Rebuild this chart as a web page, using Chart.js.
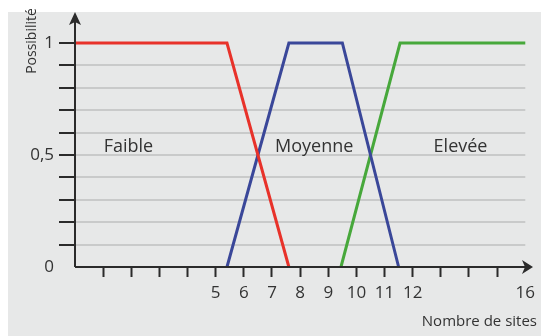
<!DOCTYPE html>
<html>
<head>
<meta charset="utf-8">
<script src="https://cdn.jsdelivr.net/npm/chart.js@4/dist/chart.umd.min.js"></script>
<style>
  html, body { margin: 0; padding: 0; background: #fff; }
  canvas { display: block; }
</style>
</head>
<body>
<canvas id="chart" width="541" height="336"></canvas>
<script>
// ─── Données ───────────────────────────────────────────────────────────────
const faibleX  = [0, 5.4, 7.6];
const faibleY  = [1, 1, 0];
const moyenneX = [5.4, 7.6, 9.5, 11.5];
const moyenneY = [0, 1, 1, 0];
const eleveeX  = [9.45, 11.55, 16];
const eleveeY  = [0, 1, 1];

const classLabels = ['Faible', 'Moyenne', 'Elevée'];
const xTickLabels = [5, 6, 7, 8, 9, 10, 11, 12, 16];
const yTickLabels = { 0: '0', 0.5: '0,5', 1: '1' };
const xTitle = 'Nombre de sites';
const yTitle = 'Possibilité';

const FONT = "'Open Sans', sans-serif";
const INK  = '#333333';
const AXIS = '#2b2b2b';

function toPoints(xs, ys) { return xs.map((x, i) => ({ x, y: ys[i] })); }

function yLabelFor(v) {
  for (const k of Object.keys(yTickLabels)) {
    if (Math.abs(v - Number(k)) < 1e-6) return yTickLabels[k];
  }
  return '';
}

// Fond gris, axes fléchés, étiquettes de classes et titres des axes
const decorPlugin = {
  id: 'decor',
  beforeDraw(chart) {
    const c = chart.ctx;
    c.save();
    c.fillStyle = '#ffffff';
    c.fillRect(0, 0, chart.width, chart.height);
    c.fillStyle = '#e7e8e8';
    c.fillRect(8, 12, chart.width - 8, chart.height - 12);
    c.restore();
  },
  afterDraw(chart) {
    const c = chart.ctx;
    const { left, bottom } = chart.chartArea;
    const xs = chart.scales.x, ys = chart.scales.y;
    const xTip = 533, yTip = 12;

    c.save();
    c.strokeStyle = AXIS;
    c.fillStyle = AXIS;
    c.lineWidth = 2;
    c.beginPath();
    c.moveTo(left, bottom);
    c.lineTo(xTip - 4, bottom);
    c.moveTo(left, bottom);
    c.lineTo(left, yTip + 4);
    c.stroke();

    // flèche X
    c.beginPath();
    c.moveTo(xTip, bottom);
    c.lineTo(xTip - 11, bottom - 7);
    c.lineTo(xTip - 8, bottom);
    c.lineTo(xTip - 11, bottom + 7);
    c.closePath();
    c.fill();
    // flèche Y
    c.beginPath();
    c.moveTo(left, yTip);
    c.lineTo(left - 6, yTip + 13);
    c.lineTo(left, yTip + 10);
    c.lineTo(left + 6, yTip + 13);
    c.closePath();
    c.fill();

    // étiquettes des classes
    c.fillStyle = INK;
    c.font = '18px ' + FONT;
    c.textAlign = 'center';
    c.textBaseline = 'middle';
    const pos = [[1.9, 0.535], [8.5, 0.535], [13.7, 0.535]];
    classLabels.forEach((t, i) => {
      c.fillText(t, xs.getPixelForValue(pos[i][0]), ys.getPixelForValue(pos[i][1]));
    });

    // titres des axes
    c.font = '15px ' + FONT;
    c.textAlign = 'right';
    c.fillText(xTitle, 537, 322);
    c.font = '14px ' + FONT;
    c.translate(32, 41);
    c.rotate(-Math.PI / 2);
    c.textAlign = 'center';
    c.fillText(yTitle, 0, 0);
    c.restore();
  }
};

new Chart(document.getElementById('chart'), {
  type: 'line',
  data: {
    datasets: [
      { label: classLabels[0], data: toPoints(faibleX, faibleY),   borderColor: '#e8322a' },
      { label: classLabels[1], data: toPoints(moyenneX, moyenneY), borderColor: '#3a4799' },
      { label: classLabels[2], data: toPoints(eleveeX, eleveeY),   borderColor: '#47a83b' },
    ].map(ds => ({
      ...ds,
      borderWidth: 3,
      pointRadius: 0,
      tension: 0,
      fill: false,
      clip: false,
      borderJoinStyle: 'miter',
    })),
  },
  options: {
    responsive: false,
    animation: false,
    devicePixelRatio: 1,
    layout: { padding: { left: 0, right: 15.5, top: 43, bottom: 0 } },
    plugins: { legend: { display: false }, tooltip: { enabled: false } },
    scales: {
      x: {
        type: 'linear',
        min: 0,
        max: 16,
        afterFit: s => { s.height = 69; },
        border: { display: false },
        grid: {
          drawOnChartArea: false,
          tickLength: 10,
          tickWidth: 2,
          tickColor: ctx => (ctx.tick && (ctx.tick.value === 0 || ctx.tick.value === 16)) ? 'rgba(0,0,0,0)' : AXIS,
        },
        ticks: {
          stepSize: 1,
          autoSkip: false,
          maxRotation: 0,
          padding: 6,
          color: INK,
          font: { family: FONT, size: 17 },
          callback: v => xTickLabels.includes(v) ? String(v) : '',
        },
      },
      y: {
        min: 0,
        max: 1,
        afterFit: s => { s.width = 75; },
        border: { display: false },
        grid: {
          lineWidth: 2,
          color: ctx => {
            const v = ctx.tick ? ctx.tick.value : 0;
            return (Math.abs(v) < 1e-6 || Math.abs(v - 1) < 1e-6) ? 'rgba(0,0,0,0)' : '#c9caca';
          },
          tickLength: 16,
          tickWidth: 2,
          tickColor: ctx => (ctx.tick && Math.abs(ctx.tick.value) < 1e-6) ? 'rgba(0,0,0,0)' : AXIS,
        },
        ticks: {
          stepSize: 0.1,
          autoSkip: false,
          padding: 5,
          color: INK,
          font: { family: FONT, size: 17 },
          callback: v => yLabelFor(v),
        },
      },
    },
  },
  plugins: [decorPlugin],
});
</script>
</body>
</html>
